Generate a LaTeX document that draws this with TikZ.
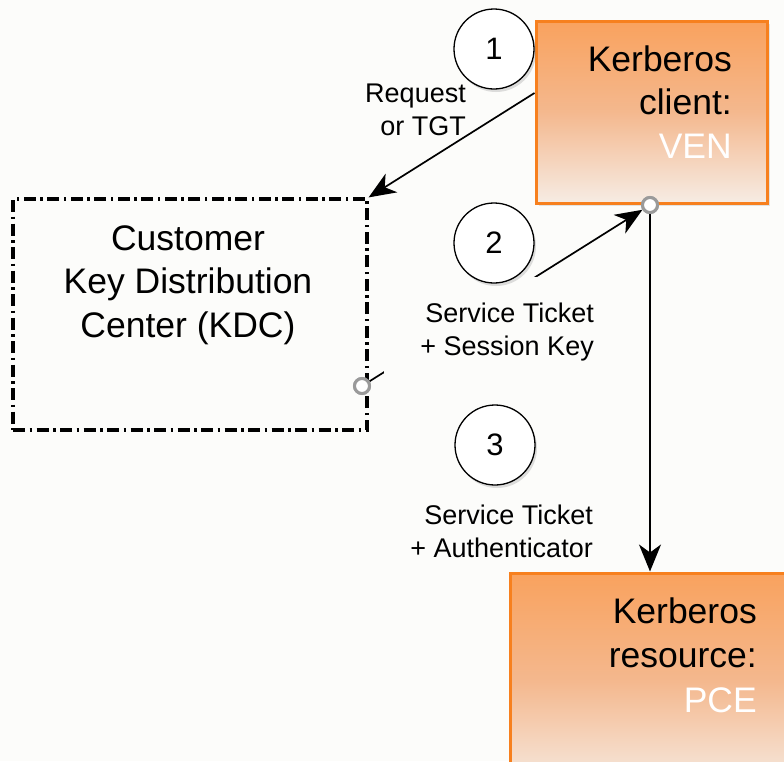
\documentclass[tikz,border=0pt]{standalone}
\usepackage{fontspec}
\setmainfont{Liberation Sans}
\usetikzlibrary{arrows.meta,shadows,calc}
\definecolor{bg}{HTML}{FCFCFA}
\definecolor{orbd}{HTML}{F7801E}
\definecolor{ortop}{HTML}{F9A25E}
\definecolor{ormid}{HTML}{F4B88E}
\definecolor{orbot}{HTML}{F6ECE4}
\definecolor{portgray}{HTML}{9A9A9A}
\begin{document}
\begin{tikzpicture}[x=1pt,y=-1pt,
  bigtxt/.style={font=\fontsize{35.5}{43.5}\selectfont, inner sep=0pt},
  smalltxt/.style={font=\fontsize{27}{33}\selectfont, inner sep=0pt, align=right},
  numcirc/.style={circle, draw=black, line width=1.3pt, fill=white, minimum size=80pt, inner sep=0pt,
    font=\fontsize{31}{31}\selectfont, drop shadow={opacity=0.25,shadow xshift=2pt,shadow yshift=-3pt}},
  orbox/.style={draw=orbd, line width=3pt, top color=ortop, bottom color=orbot, middle color=ormid,
    drop shadow={opacity=0.2,shadow xshift=3pt,shadow yshift=-3pt}},
  kdcbox/.style={draw=black, line width=3.2pt, dash pattern=on 12pt off 4.5pt on 2.5pt off 4.5pt},
  port/.style={circle, draw=portgray, line width=3pt, fill=white, minimum size=15pt, inner sep=0pt},
  arr/.style={-{Stealth[length=27pt,width=22pt,inset=8pt]}, line width=1.7pt}
]
\clip (0,0) rectangle (784,761);
\fill[bg] (0,0) rectangle (784,761);

% KDC box
\node[kdcbox, minimum width=354pt, minimum height=231pt] (kdc) at (190,314.5) {};
\node[bigtxt, align=center, anchor=base] (kdctxt) at (188,337) {Customer\\Key Distribution\\Center (KDC)};

\coordinate (venportc) at (650,205);
\coordinate (kdcportc) at (362,386);

% boxes
\node[orbox, minimum width=231pt, minimum height=182pt] (ven) at (651.5,112) {};
\node[orbox, minimum width=290pt, minimum height=217pt] (pce) at (655,681.5) {};

\node[port] (venport) at (venportc) {};
\node[port] (kdcport) at (kdcportc) {};

% connectors
\draw[arr] ([yshift=19pt]ven.west) -- (kdc.north east);
\draw[arr] (kdcport) -- (venport);
\draw[arr] (venport) -- (venport |- pce.north);

% labels
\node[smalltxt, anchor=base east] (lab1) at (466,135) {Request\\or TGT};
\node[smalltxt, anchor=base east, fill=bg, inner xsep=36pt, inner ysep=25pt] (lab2) at (630,355) {Service Ticket\\+ Session Key};
\node[smalltxt, anchor=base east] (lab3) at (593,557) {Service Ticket\\+ Authenticator};

% number circles
\node[numcirc] (n1) at (494,49) {1};
\node[numcirc] (n2) at (494,243) {2};
\node[numcirc] (n3) at (495,445) {3};

% box texts
\node[bigtxt, align=right, anchor=base east] (ventxt) at (732,158) {Kerberos\\client:\\\textcolor{white}{VEN}};
\node[bigtxt, align=right, anchor=base east, font=\fontsize{35.5}{44.5}\selectfont] (pcetxt) at (757,712) {Kerberos\\resource:\\\textcolor{white}{PCE}};

% ports on top
\node[port] at (venportc) {};
\node[port] at (kdcportc) {};
\end{tikzpicture}
\end{document}
